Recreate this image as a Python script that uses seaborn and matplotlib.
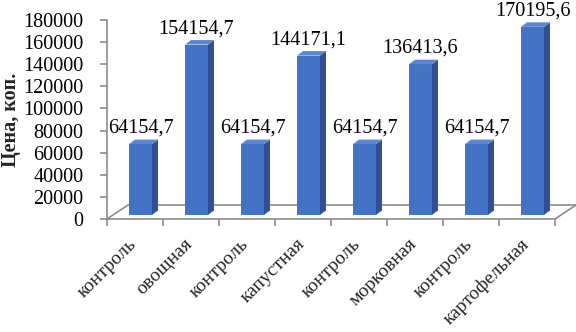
import numpy as np
import pandas as pd
import matplotlib
matplotlib.use("Agg")
import matplotlib.pyplot as plt
from matplotlib.patches import Polygon
import matplotlib.transforms as mtrans
import seaborn as sns

categories = ["контроль", "овощная", "контроль", "капустная",
              "контроль", "морковная", "контроль", "картофельная"]
values = [64154.7, 154154.7, 64154.7, 144171.1,
          64154.7, 136413.6, 64154.7, 170195.6]
value_labels = ["64154,7", "154154,7", "64154,7", "144171,1",
                "64154,7", "136413,6", "64154,7", "170195,6"]
yticks = [0, 20000, 40000, 60000, 80000, 100000, 120000, 140000, 160000, 180000]

sns.set_theme(style="white")
plt.rcParams['font.family'] = ['Liberation Serif', 'DejaVu Serif']

W, H = 576, 332
fig = plt.figure(figsize=(W / 100, H / 100), dpi=100)
ax_l, ax_r, ax_t, ax_b = 107, 555, 20, 219
ax = fig.add_axes([ax_l / W, (H - ax_b) / H, (ax_r - ax_l) / W, (ax_b - ax_t) / H])

df = pd.DataFrame({"pos": np.arange(len(values)), "value": values})
front = "#4472C4"
side = "#2F5194"
topc = "#5A86D3"
sns.barplot(data=df, x="pos", y="value", width=0.41, color=front,
            saturation=1, ax=ax, linewidth=0)

ax.set_xlim(-0.5, len(values) - 0.5)
ax.set_ylim(0, 180000)

px_x = (ax_r - ax_l) / len(values)
px_y = (ax_b - ax_t) / 180000.0

# floor
fdx, fdy = 21 / px_x, 14 / px_y
gray = "#8C8C8C"
fx = [-0.5, len(values) - 0.5, len(values) - 0.5 + fdx, -0.5 + fdx, -0.5]
fy = [0, 0, fdy, fdy, 0]
ax.plot(fx, fy, color=gray, lw=1.2, clip_on=False, zorder=1)

# bars with 3D faces
ox, oy = 5.5 / px_x, 4 / px_y
ddx, ddy = 6 / px_x, 4.5 / px_y
for p, lab in zip(ax.patches, value_labels):
    p.set_x(p.get_x() + ox)
    p.set_y(oy)
    p.set_zorder(3)
    p.set_clip_on(False)
    x0 = p.get_x()
    x1 = x0 + p.get_width()
    h = p.get_height()
    ax.add_patch(Polygon([(x1, oy), (x1 + ddx, oy + ddy), (x1 + ddx, oy + h + ddy), (x1, oy + h)],
                         closed=True, facecolor=side, edgecolor="none", zorder=3, clip_on=False))
    ax.add_patch(Polygon([(x0, oy + h), (x1, oy + h), (x1 + ddx, oy + h + ddy), (x0 + ddx, oy + h + ddy)],
                         closed=True, facecolor=topc, edgecolor="none", zorder=3, clip_on=False))
    ax.annotate(lab, ((x0 + x1) / 2, oy + h + ddy), xytext=(0, 5), textcoords="offset points",
                ha="center", va="baseline", fontsize=14.5, color="black", zorder=4,
                annotation_clip=False)

# axes styling
for s in ["top", "right", "bottom"]:
    ax.spines[s].set_visible(False)
ax.spines["left"].set_color(gray)
ax.spines["left"].set_linewidth(1.2)
ax.set_yticks(yticks)
ax.set_yticklabels([str(v) for v in yticks], fontsize=14.5)
ax.tick_params(axis="y", left=True, length=5, width=1.2, color=gray, pad=12, labelcolor="black")

ax.set_xticks(np.arange(len(values)))
ax.set_xticklabels(categories, rotation=45, ha="right", va="top", rotation_mode="anchor",
                   fontsize=14)
ax.set_xticks(np.arange(len(values) + 1) - 0.5, minor=True)
ax.tick_params(axis="x", which="major", length=0, pad=12)
ax.tick_params(axis="x", which="minor", bottom=True, length=5, width=1.2, color=gray)
for t in ax.get_xticklabels():
    t.set_transform(t.get_transform() + mtrans.ScaledTranslation(-5 / 72, 0, fig.dpi_scale_trans))

ax.set_xlabel("")
ax.set_ylabel("Цена, коп.", fontsize=14.5, fontweight="bold")
ax.yaxis.set_label_coords(-86 / (ax_r - ax_l), 0.5)

fig.savefig("out.png", dpi=100)
